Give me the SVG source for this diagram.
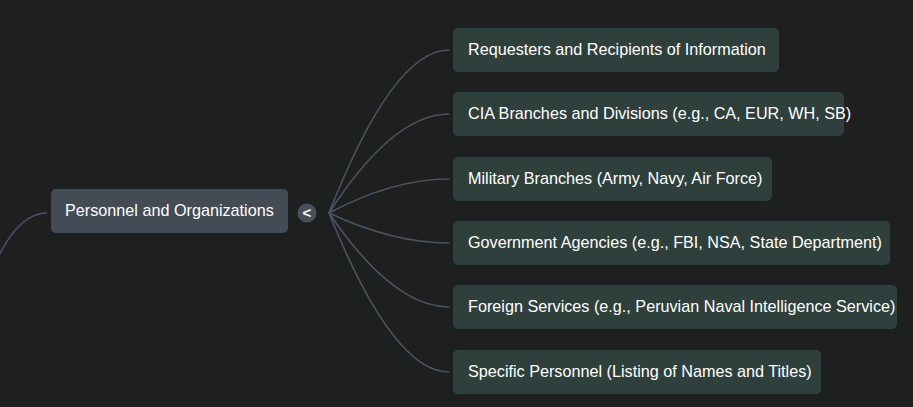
<svg xmlns="http://www.w3.org/2000/svg" width="913" height="407" viewBox="0 0 913 407">
<style>
.bg{fill:#1e1f1f}
.child rect{fill:#2f403c}
.root rect{fill:#434b55}
text{font-family:"Liberation Sans",Arial,Helvetica,sans-serif;font-size:16.2px;fill:#ffffff}
.lnk path{fill:none;stroke:#4b535e;stroke-width:1.6}
</style>
<rect class="bg" x="0" y="0" width="913" height="407"/>
<g id="connectors" class="lnk">
<path d="M47,213 Q15,213 -10,275" style="stroke:#4c4f66"/>
<path d="M329,213 Q393,50 449,50"/>
<path d="M329,213 Q393,114 449,114"/>
<path d="M329,213 Q393,179 449,179"/>
<path d="M329,213 Q393,243 449,243"/>
<path d="M329,213 Q393,307 449,307"/>
<path d="M329,213 Q393,372 449,372"/>
</g>
<g id="root" class="root">
<rect x="51" y="189" width="237" height="44" rx="5"/>
<text x="65" y="216">Personnel and Organizations</text>
</g>
<g id="collapse">
<circle cx="307" cy="213" r="9.5" fill="#474e58"/>
<text x="307" y="218" text-anchor="middle" style="font-size:15px;font-weight:bold">&lt;</text>
</g>
<g id="n1" class="child">
<rect x="453" y="28" width="326" height="44" rx="5"/>
<text x="468" y="55">Requesters and Recipients of Information</text>
</g>
<g id="n2" class="child">
<rect x="453" y="92" width="391" height="44" rx="5"/>
<text x="468" y="119">CIA Branches and Divisions (e.g., CA, EUR, WH, SB)</text>
</g>
<g id="n3" class="child">
<rect x="453" y="157" width="319" height="44" rx="5"/>
<text x="468" y="184">Military Branches (Army, Navy, Air Force)</text>
</g>
<g id="n4" class="child">
<rect x="453" y="221" width="437" height="44" rx="5"/>
<text x="468" y="248">Government Agencies (e.g., FBI, NSA, State Department)</text>
</g>
<g id="n5" class="child">
<rect x="453" y="285" width="444" height="44" rx="5"/>
<text x="468" y="312">Foreign Services (e.g., Peruvian Naval Intelligence Service)</text>
</g>
<g id="n6" class="child">
<rect x="453" y="350" width="368" height="44" rx="5"/>
<text x="468" y="377">Specific Personnel (Listing of Names and Titles)</text>
</g>
</svg>
